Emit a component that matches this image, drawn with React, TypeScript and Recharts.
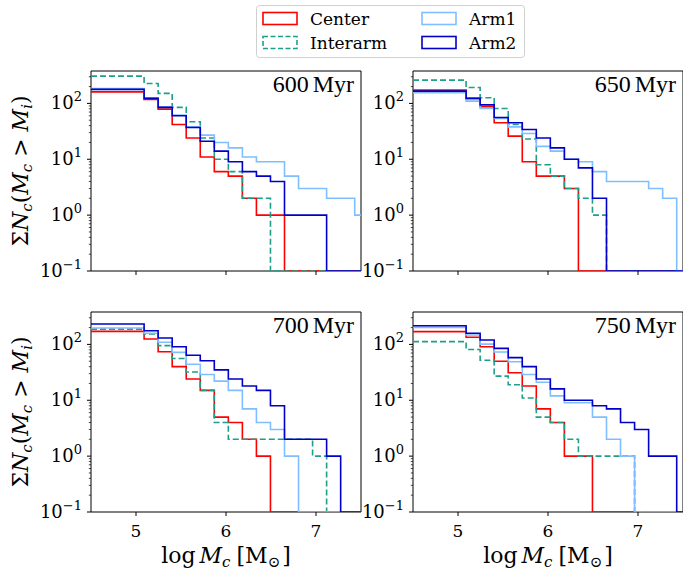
import React from 'react';
import { LineChart, Line, XAxis, YAxis, ReferenceArea } from 'recharts';

// common bin edges of the cumulative mass histograms (log M_c)
const binEdges = [5.09, 5.246, 5.402, 5.558, 5.714, 5.87, 6.026, 6.182, 6.338, 6.494, 6.65, 6.806, 6.962, 7.118, 7.274, 7.43];
const X_MIN = 4.5;
const X_MAX = 7.5;
const Y_MIN = 0.1;
const Y_MAX = 380;
const xTicks = [5, 6, 7];
const yMajorTicks = [0.1, 1, 10, 100];
const yMinorTicks = [0.2, 0.3, 0.4, 0.5, 0.6, 0.7, 0.8, 0.9, 2, 3, 4, 5, 6, 7, 8, 9, 20, 30, 40, 50, 60, 70, 80, 90, 200, 300];

// N(>M) per bin, first bin starts at the left edge
const center600 = [161, 118, 79, 42, 24, 11, 6, 5, 2, 1, 1, 0, 0, 0, 0, 0, 0];
const interarm600 = [308, 227, 151, 85, 47, 24, 10, 6, 2, 2, 0, 0, 0, 0, 0, 0, 0];
const arm1_600 = [185, 126, 87, 62, 38, 27, 20, 16, 11, 9, 9, 5, 3, 3, 2, 2, 1];
const arm2_600 = [178, 123, 85, 60, 37, 21, 14, 9, 6, 5, 4, 1, 1, 1, 0, 0, 0];

const center650 = [173, 123, 87, 45, 26, 9, 5, 5, 3, 0, 0, 0, 0, 0, 0, 0, 0];
const interarm650 = [261, 193, 126, 81, 42, 23, 8, 5, 3, 2, 1, 0, 0, 0, 0, 0, 0];
const arm1_650 = [155, 110, 81, 54, 38, 29, 17, 14, 10, 9, 6, 4, 4, 4, 3, 2, 0];
const arm2_650 = [166, 123, 94, 56, 45, 34, 24, 16, 10, 7, 2, 0, 0, 0, 0, 0, 0];

const center700 = [171, 125, 74, 40, 24, 15, 5, 4, 2, 1, 0, 0, 0, 0, 0, 0, 0];
const interarm700 = [188, 153, 95, 56, 32, 15, 4, 2, 2, 2, 2, 2, 2, 1, 0, 0, 0];
const arm1_700 = [196, 158, 109, 72, 44, 29, 22, 15, 7, 4, 3, 1, 0, 0, 0, 0, 0];
const arm2_700 = [232, 176, 130, 91, 64, 51, 35, 24, 18, 15, 8, 2, 2, 2, 1, 0, 0];

const center750 = [169, 134, 91, 50, 31, 18, 7, 4, 1, 1, 0, 0, 0, 0, 0, 0, 0];
const interarm750 = [112, 81, 52, 27, 19, 11, 5, 4, 2, 1, 1, 1, 1, 0, 0, 0, 0];
const arm1_750 = [202, 147, 101, 73, 49, 29, 21, 12, 9, 9, 5, 2, 1, 0, 0, 0, 0];
const arm2_750 = [216, 158, 120, 85, 58, 40, 24, 16, 10, 10, 8, 7, 4, 3, 1, 1, 0];

const COLORS = {
  center: '#ff0000',
  interarm: '#1f9e89',
  arm1: '#7fbfff',
  arm2: '#0000c8',
};
const DASH = '6 3';
const SERIF = '"DejaVu Serif", serif';

function buildRows(center: number[], interarm: number[], arm1: number[], arm2: number[]) {
  const xs = [X_MIN, ...binEdges, X_MAX];
  const clip = (v: number) => (v > 0 ? v : Y_MIN);
  return xs.map((x, i) => {
    const k = Math.min(i, center.length - 1);
    return {
      x,
      center: clip(center[k]),
      interarm: clip(interarm[k]),
      arm1: clip(arm1[k]),
      arm2: clip(arm2[k]),
    };
  });
}

const panels = [
  { label: '600', left: 91, top: 71, rows: buildRows(center600, interarm600, arm1_600, arm2_600), bottom: false },
  { label: '650', left: 413, top: 71, rows: buildRows(center650, interarm650, arm1_650, arm2_650), bottom: false },
  { label: '700', left: 91, top: 312, rows: buildRows(center700, interarm700, arm1_700, arm2_700), bottom: true },
  { label: '750', left: 413, top: 312, rows: buildRows(center750, interarm750, arm1_750, arm2_750), bottom: true },
];

const PLOT_W = 270;
const PLOT_H = 200;
const Y_W = 70;
const X_H = 34;
const M_T = 4;
const M_R = 4;

function YTick(props: any) {
  const { x, y, payload } = props;
  const v = payload.value;
  const exp = Math.round(Math.log10(v));
  const major = Math.abs(v - Math.pow(10, exp)) < 1e-6 * v;
  return (
    <g>
      <line x1={x} x2={x - (major ? 4 : 2.2)} y1={y} y2={y} stroke="#000" strokeWidth={major ? 1 : 0.7} />
      {major && (
        <text x={x - 9} y={y + 6} textAnchor="end" fontFamily={SERIF} fontSize={18} fill="#000">
          10
          <tspan fontSize={13} dy={-8}>{exp < 0 ? '\u2212' + Math.abs(exp) : exp}</tspan>
        </text>
      )}
    </g>
  );
}

function XTick(props: any) {
  const { x, y, payload, showLabel } = props;
  return (
    <g>
      <line x1={x} x2={x} y1={y} y2={y + 4} stroke="#000" strokeWidth={1} />
      {showLabel && (
        <text x={x} y={y + 25} textAnchor="middle" fontFamily={SERIF} fontSize={17} fill="#000">
          {payload.value}
        </text>
      )}
    </g>
  );
}

function Panel({ rows, left, top, bottom }: any) {
  return (
    <div style={{ position: 'absolute', left: left - Y_W, top: top - M_T }}>
      <LineChart
        width={Y_W + PLOT_W + M_R}
        height={M_T + PLOT_H + X_H}
        data={rows}
        margin={{ top: M_T, right: M_R, bottom: 0, left: 0 }}
      >
        <XAxis
          dataKey="x"
          type="number"
          domain={[X_MIN, X_MAX]}
          allowDataOverflow
          ticks={xTicks}
          interval={0}
          height={X_H}
          tickSize={0}
          tickMargin={0}
          tickLine={false}
          axisLine={false}
          tick={<XTick showLabel={bottom} />}
        />
        <YAxis
          type="number"
          scale="log"
          domain={[Y_MIN, Y_MAX]}
          allowDataOverflow
          ticks={[...yMajorTicks, ...yMinorTicks]}
          interval={0}
          width={Y_W}
          tickSize={0}
          tickMargin={0}
          tickLine={false}
          axisLine={false}
          tick={<YTick />}
        />
        <Line type="stepAfter" dataKey="center" stroke={COLORS.center} strokeWidth={1.6} dot={false} isAnimationActive={false} />
        <Line type="stepAfter" dataKey="interarm" stroke={COLORS.interarm} strokeWidth={1.6} strokeDasharray={DASH} dot={false} isAnimationActive={false} />
        <Line type="stepAfter" dataKey="arm1" stroke={COLORS.arm1} strokeWidth={1.6} dot={false} isAnimationActive={false} />
        <Line type="stepAfter" dataKey="arm2" stroke={COLORS.arm2} strokeWidth={1.6} dot={false} isAnimationActive={false} />
        <ReferenceArea x1={X_MIN} x2={X_MAX} y1={Y_MIN} y2={Y_MAX} fill="none" stroke="#000" strokeWidth={1} ifOverflow="visible" />
      </LineChart>
    </div>
  );
}

const legendItems = [
  { name: 'Center', color: COLORS.center, dash: false, col: 0, row: 0 },
  { name: 'Interarm', color: COLORS.interarm, dash: true, col: 0, row: 1 },
  { name: 'Arm1', color: COLORS.arm1, dash: false, col: 1, row: 0 },
  { name: 'Arm2', color: COLORS.arm2, dash: false, col: 1, row: 1 },
];

function YLabel({ cx, cy }: { cx: number; cy: number }) {
  return (
    <text transform={`translate(${cx},${cy}) rotate(-90)`} textAnchor="middle" fontFamily={SERIF} fontSize={22} fill="#000">
      Σ<tspan fontStyle="italic">N</tspan>
      <tspan fontStyle="italic" fontSize={15} dy={4}>c</tspan>
      <tspan dy={-4}>(</tspan>
      <tspan fontStyle="italic">M</tspan>
      <tspan fontStyle="italic" fontSize={15} dy={4}>c</tspan>
      <tspan dy={-4}>{' > '}</tspan>
      <tspan fontStyle="italic">M</tspan>
      <tspan fontStyle="italic" fontSize={15} dy={4}>i</tspan>
      <tspan dy={-4}>)</tspan>
    </text>
  );
}

function XLabel({ cx, y }: { cx: number; y: number }) {
  return (
    <text x={cx} y={y} textAnchor="middle" fontFamily={SERIF} fontSize={22} fill="#000">
      log
      <tspan fontStyle="italic" dx={4}>M</tspan>
      <tspan fontStyle="italic" fontSize={15} dy={4}>c</tspan>
      <tspan dy={-4} dx={6}>[M</tspan>
      <tspan fontSize={15} dy={4}>⊙</tspan>
      <tspan dy={-4} dx={2}>]</tspan>
    </text>
  );
}

export default function App() {
  return (
    <div
      style={{
        position: 'fixed',
        left: 0,
        top: 0,
        width: 683,
        height: 575,
        overflow: 'hidden',
        background: '#fff',
        fontFamily: SERIF,
      }}
    >
      {panels.map((p) => (
        <Panel key={p.label} {...p} />
      ))}
      <svg width={683} height={575} style={{ position: 'absolute', left: 0, top: 0, pointerEvents: 'none' }}>
        {/* legend */}
        <rect x={256.5} y={5.5} width={268} height={52} rx={3} fill="#fff" fillOpacity={0.8} stroke="#d0d0d0" strokeWidth={1} />
        {legendItems.map((it) => {
          const px = it.col === 0 ? 263 : 422;
          const py = it.row === 0 ? 12.5 : 36.5;
          return (
            <g key={it.name}>
              <rect x={px} y={py} width={34} height={12} fill="none" stroke={it.color} strokeWidth={1.6} strokeDasharray={it.dash ? '5 2.5' : undefined} />
              <text x={px + 47} y={py + 12} fontFamily={SERIF} fontSize={17} fill="#000">
                {it.name}
              </text>
            </g>
          );
        })}
        {/* panel labels */}
        {panels.map((p) => (
          <text
            key={'lab' + p.label}
            x={p.left + PLOT_W - 7}
            y={p.top + 21}
            textAnchor="end"
            fontFamily='"Liberation Serif", serif'
            fontSize={24}
            fill="#000"
          >
            {p.label}
            <tspan dx={4}>Myr</tspan>
          </text>
        ))}
        <YLabel cx={28} cy={171} />
        <YLabel cx={28} cy={412} />
        <XLabel cx={226} y={563} />
        <XLabel cx={548} y={563} />
      </svg>
    </div>
  );
}
